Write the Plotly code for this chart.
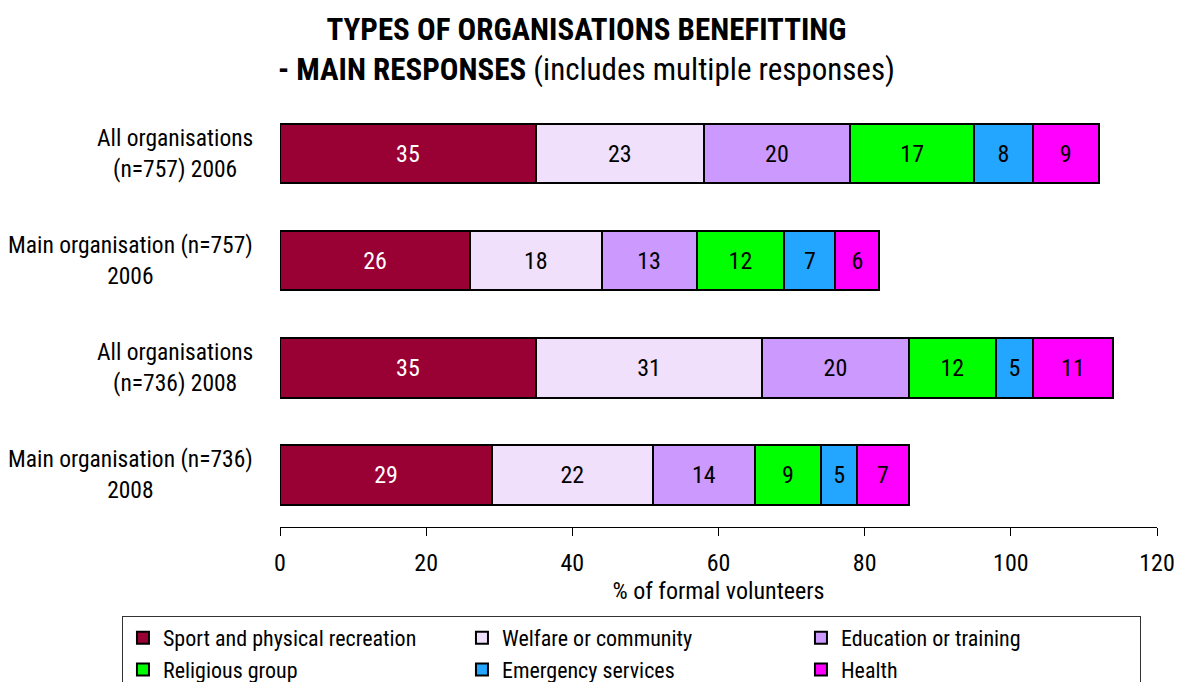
import plotly.graph_objects as go

categories = [
    "All organisations<br>(n=757) 2006",
    "Main organisation (n=757)<br>2006",
    "All organisations<br>(n=736) 2008",
    "Main organisation (n=736)<br>2008",
]
series_names = [
    "Sport and physical recreation",
    "Welfare or community",
    "Education or training",
    "Religious group",
    "Emergency services",
    "Health",
]
sport = [35, 26, 35, 29]
welfare = [23, 18, 31, 22]
education = [20, 13, 20, 14]
religious = [17, 12, 12, 9]
emergency = [8, 7, 5, 5]
health = [9, 6, 11, 7]
series_values = [sport, welfare, education, religious, emergency, health]
x_ticks = [0, 20, 40, 60, 80, 100, 120]

colors = ["#990033", "#F0E0FC", "#CC99FF", "#00FF00", "#22A6FF", "#FF00FF"]
text_colors = ["white", "black", "black", "black", "black", "black"]
FONT = "Liberation Sans Narrow, Arial Narrow, Roboto Condensed, Roboto, Arial, sans-serif"
FS = 24

positions = list(range(len(categories)))

fig = go.Figure()
for name, vals, col, tcol in zip(series_names, series_values, colors, text_colors):
    fig.add_trace(go.Bar(
        y=positions, x=vals, name=name, orientation="h",
        marker=dict(color=col, line=dict(color="black", width=2)),
        text=[str(v) for v in vals], textposition="inside",
        insidetextanchor="middle", textangle=0,
        textfont=dict(color=tcol, size=FS, family=FONT),
        width=0.56,
    ))

# category labels drawn as centred multi-line annotations
for pos, label in zip(positions, categories):
    fig.add_annotation(
        x=-0.028, xref="paper", y=pos, yref="y", text=label,
        showarrow=False, xanchor="right", align="center",
        font=dict(size=23.5, family=FONT, color="black"),
    )

# two-line chart title
fig.add_annotation(
    x=0.350, xref="paper", y=1.119, yref="paper",
    text="<b>TYPES OF ORGANISATIONS BENEFITTING</b><br><b>- MAIN RESPONSES</b> (includes multiple responses)",
    showarrow=False, xanchor="center", yanchor="middle", align="center",
    font=dict(size=31, family=FONT, color="black"),
)

fig.update_layout(
    width=1186, height=682,
    paper_bgcolor="white", plot_bgcolor="white",
    barmode="stack",
    margin=dict(l=280, r=29, t=100, b=155, autoexpand=False),
    font=dict(family=FONT, size=FS, color="black"),
    uniformtext=dict(minsize=FS, mode="show"),
    showlegend=True,
    legend=dict(
        orientation="h", x=-0.1802, xanchor="left", y=-0.2085, yanchor="top",
        bordercolor="#333333", borderwidth=1,
        entrywidth=294, entrywidthmode="pixels",
        font=dict(size=22, family=FONT), traceorder="normal",
        tracegroupgap=0,
    ),
    xaxis=dict(
        range=[0, 120], tickvals=x_ticks, ticktext=[str(t) for t in x_ticks],
        showgrid=False, zeroline=False, showline=True, linecolor="black", linewidth=1,
        ticks="outside", ticklen=8, tickcolor="black",
        ticklabelstandoff=6,
        tickfont=dict(size=FS, family=FONT),
        title=dict(text="% of formal volunteers", font=dict(size=FS, family=FONT), standoff=6),
    ),
    yaxis=dict(
        range=[3.49, -0.5], showticklabels=False, showgrid=False, zeroline=False,
        showline=False, ticks="",
    ),
)

fig.write_html("out.html")
